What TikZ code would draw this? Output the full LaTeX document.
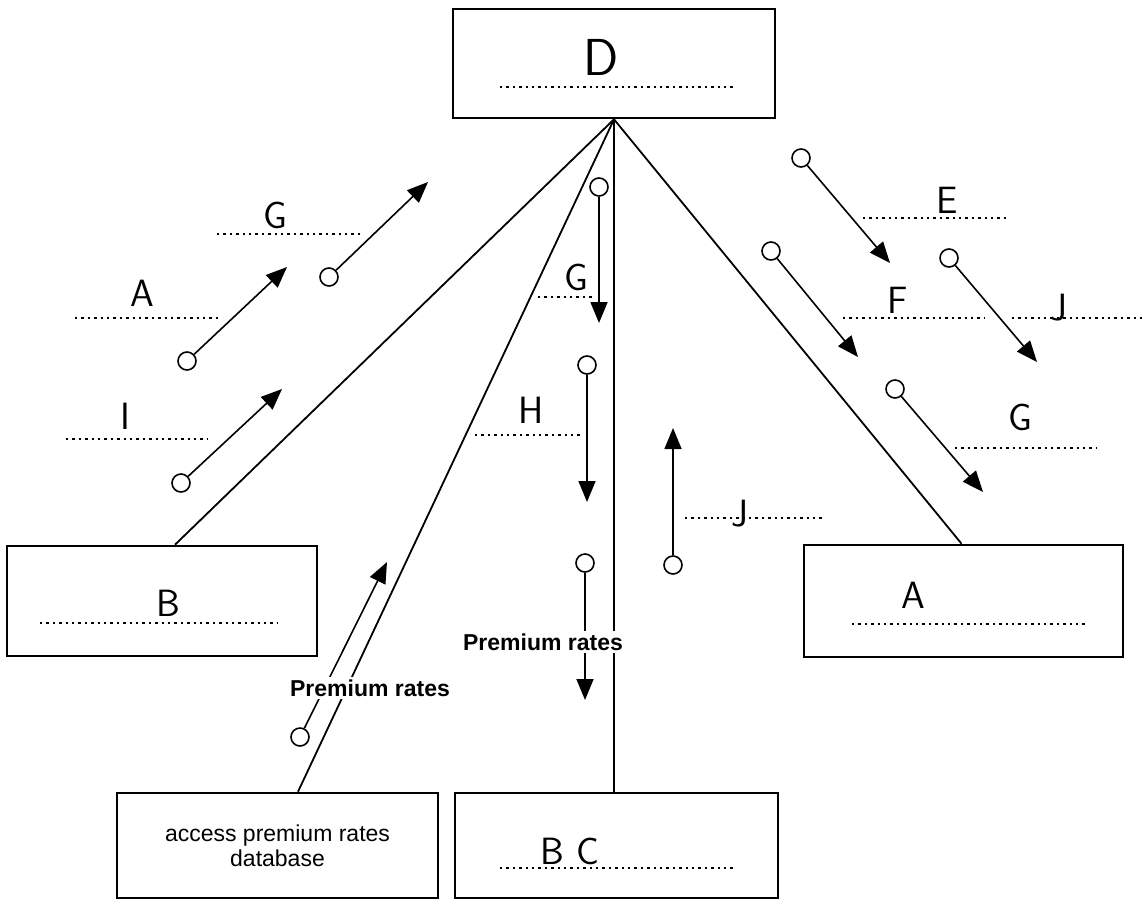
\documentclass[tikz,border=0pt]{standalone}
\usepackage{fontspec}
\newfontfamily\arialfont{Liberation Sans}
\usepackage{tikz}
\usetikzlibrary{arrows.meta}

\begin{document}
\begin{tikzpicture}[x=0.5pt,y=-0.5pt,
  module/.style={draw, line width=1.3pt, minimum height=55pt, inner sep=0pt},
  link/.style={line width=0.9pt},
  couple/.style={circle, draw, line width=0.8pt, minimum size=9pt, inner sep=0pt},
  flow/.style={-{Triangle[length=10.5pt,width=8.5pt]}, line width=0.8pt},
  dots/.style={line width=1.3pt, dash pattern=on 1.2pt off 2pt},
  hand/.style={font=\sffamily\fontsize{19}{19}\selectfont, inner sep=0pt},
  tag/.style={font=\arialfont\bfseries\fontsize{11.5}{12}\selectfont, fill=white, inner sep=1.5pt}]
  \useasboundingbox[fill=white] (0,0) rectangle (1144,900);

  % modules
  \node[module, minimum width=161pt, minimum height=54.5pt] (D) at (614,63.5) {};
  \node[module, minimum width=155pt] (B) at (162,601) {};
  \node[module, minimum width=159.5pt, minimum height=56pt] (A) at (963.5,601) {};
  \node[module, minimum width=160.5pt, minimum height=52.5pt, align=center,
        font=\arialfont\fontsize{11.5}{12.5}\selectfont] (acc) at (277.5,845.5)
        {access premium rates\\database};
  \node[module, minimum width=161.5pt, minimum height=52.5pt] (BC) at (616.5,845.5) {};

  % module names
  \node[hand, font=\sffamily\fontsize{26}{26}\selectfont] (nD) at (601,57) {D};
  \draw[dots] (500,87) -- (735,87);
  \node[hand] (nB) at (168,603) {B};
  \draw[dots] (40,623) -- (277,623);
  \node[hand] (nA) at (913,595) {A};
  \draw[dots] (852,624) -- (1087,624);
  \node[hand] (nBC) at (570,851) {B C};
  \draw[dots] (500,868) -- (735,868);

  % calls
  \draw[link] (D.south) -- ([xshift=6.5pt]B.north);
  \draw[link] (D.south) -- ([xshift=10.25pt]acc.north);
  \draw[link] (D.south) -- (D.south |- BC.north);
  \draw[link] (D.south) -- ([xshift=-1pt]A.north);

  % couples
  \foreach \cx/\cy/\tx/\ty [count=\i] in {329/277/428/182, 187/361/287/267,
      181/483/282/389, 599/187/599/323, 587/365/587/502, 673/565/673/428,
      585/563/585/700, 300/737/387/562, 801/158/890/263, 771/251/858/357,
      949/258/1037/362, 895/389/983/492} {
    \node[couple] (c\i) at (\cx,\cy) {};
    \coordinate (t\i) at (\tx,\ty);
    \draw[flow] (c\i) -- (t\i);
  }

  % couple names
  \foreach \t/\lx/\ly/\da/\db/\dy [count=\i] in {G/275/215/217/360/234,
      A/142/293/75/218/318, I/125/416/66/208/439, G/576/277/538/595/297,
      H/531/410/475/583/435, J/740/514/685/825/518, E/947/200/863/1007/218,
      F/898/300/843/985/318, J/1059/308/1012/1144/318, G/1020/417/955/1097/448} {
    \node[hand] (d\i) at (\lx,\ly) {\t};
    \draw[dots] (\da,\dy) -- (\db,\dy);
  }

  \node[tag] (pr1) at (543,642) {Premium rates};
  \node[tag] (pr2) at (370,688) {Premium rates};
\end{tikzpicture}
\end{document}
